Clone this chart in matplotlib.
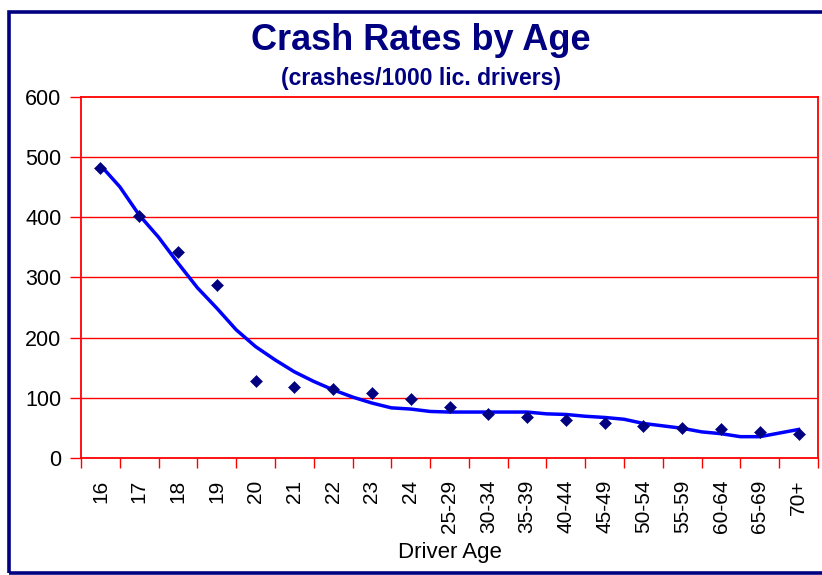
import numpy as np
import matplotlib
matplotlib.use("Agg")
import matplotlib.pyplot as plt
from matplotlib.patches import Rectangle

plt.rcParams['font.family'] = ['Liberation Sans', 'DejaVu Sans']

categories = ["16", "17", "18", "19", "20", "21", "22", "23", "24",
              "25-29", "30-34", "35-39", "40-44", "45-49", "50-54",
              "55-59", "60-64", "65-69", "70+"]
crash_rates = [482, 402, 342, 287, 128, 118, 115, 107, 98,
               85, 72, 67, 62, 57, 52, 50, 47, 43, 40]
# trend line read at every half category (from first to last category)
trend_values = [487, 451, 404, 367, 324, 283, 249, 213, 185, 163,
                143, 127, 113, 101, 91, 83, 81, 77, 76, 76,
                76, 76, 76, 73, 72, 69, 67, 64, 57, 53,
                49, 43, 40, 35, 35, 41, 47]
y_ticks = [0, 100, 200, 300, 400, 500, 600]

navy = "#000080"
red = "#FF0000"

fig = plt.figure(figsize=(8.22, 5.75), dpi=100)
W, H = 822, 575
ax = fig.add_axes([81 / W, 1 - 457.7 / H, (818 - 81) / W, (457.7 - 97.3) / H])

x = np.arange(len(categories))
trend_x = np.linspace(0, len(categories) - 1, len(trend_values))

for yv in y_ticks[1:-1]:
    ax.axhline(yv, color=red, lw=1.0, zorder=1)

ax.plot(trend_x, trend_values, color="#0000FF", lw=2.5, zorder=3,
        solid_joinstyle='round')
ax.plot(x, crash_rates, linestyle='none', marker='D', markersize=5.8,
        color=navy, markeredgewidth=0.4, markeredgecolor=navy, zorder=4)

ax.set_xlim(-0.5, len(categories) - 0.5)
ax.set_ylim(0, 600)
ax.set_yticks(y_ticks)
ax.set_yticklabels([str(v) for v in y_ticks], fontsize=15.5)
ax.set_xticks(np.arange(-0.5, len(categories) + 0.5, 1.0))
ax.set_xticklabels([])
ax.set_xticks(x, minor=True)
ax.set_xticklabels(categories, minor=True, rotation=90, fontsize=15,
                   va='top', ha='center')
ax.tick_params(axis='x', which='minor', length=0, pad=16)
ax.tick_params(axis='x', which='major', length=7, color=red, width=1)
ax.tick_params(axis='y', length=8, color=red, width=1, pad=6)

for s in ax.spines.values():
    s.set_color(red)
    s.set_linewidth(1.3)

ax.set_xlabel("Driver Age", fontsize=16, labelpad=6)

fig.text(421 / W, 1 - 40 / H, "Crash Rates by Age", ha='center', va='center',
         fontsize=26, fontweight='bold', color=navy)
fig.text(421 / W, 1 - 79 / H, "(crashes/1000 lic. drivers)", ha='center',
         va='center', fontsize=16.5, fontweight='bold', color=navy)

fig.patches.append(Rectangle((8.5 / W, 1 - 572.5 / H), 830 / W, (572.5 - 12) / H,
                             transform=fig.transFigure, fill=False,
                             edgecolor=navy, lw=2.6, zorder=10))

fig.savefig("out.png", dpi=100)
